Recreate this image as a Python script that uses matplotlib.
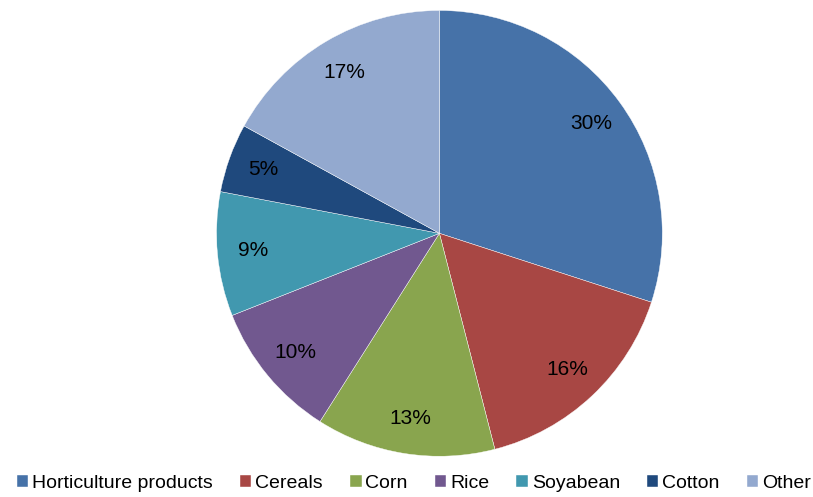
import matplotlib.pyplot as plt

categories = ['Horticulture products', 'Cereals', 'Corn', 'Rice', 'Soyabean', 'Cotton', 'Other']
shares = [30, 16, 13, 10, 9, 5, 17]
colors = ['#4672A8', '#A84744', '#89A54E', '#71588F', '#4198AF', '#1F497D', '#93A9CF']

plt.rcParams['font.family'] = ['Liberation Sans', 'DejaVu Sans']

fig = plt.figure(figsize=(8.13, 4.97), dpi=100)
ax = fig.add_axes([0.266, 0.082, 0.549, 0.897])

wedges, texts, autotexts = ax.pie(
    shares, colors=colors, startangle=90, counterclock=False,
    autopct='%1.0f%%', pctdistance=0.84, radius=1,
    wedgeprops=dict(edgecolor='white', linewidth=0.3),
    textprops=dict(fontsize=15, color='black'))
ax.set_xlim(-1, 1)
ax.set_ylim(-1, 1)
ax.set_aspect('equal')

fig.legend(wedges, categories, loc='lower center', bbox_to_anchor=(0.509, -0.025),
           ncol=7, frameon=False, fontsize=14, handlelength=0.6, handleheight=0.6,
           handletextpad=0.2, columnspacing=1.38)

fig.savefig('out.png', dpi=100)
